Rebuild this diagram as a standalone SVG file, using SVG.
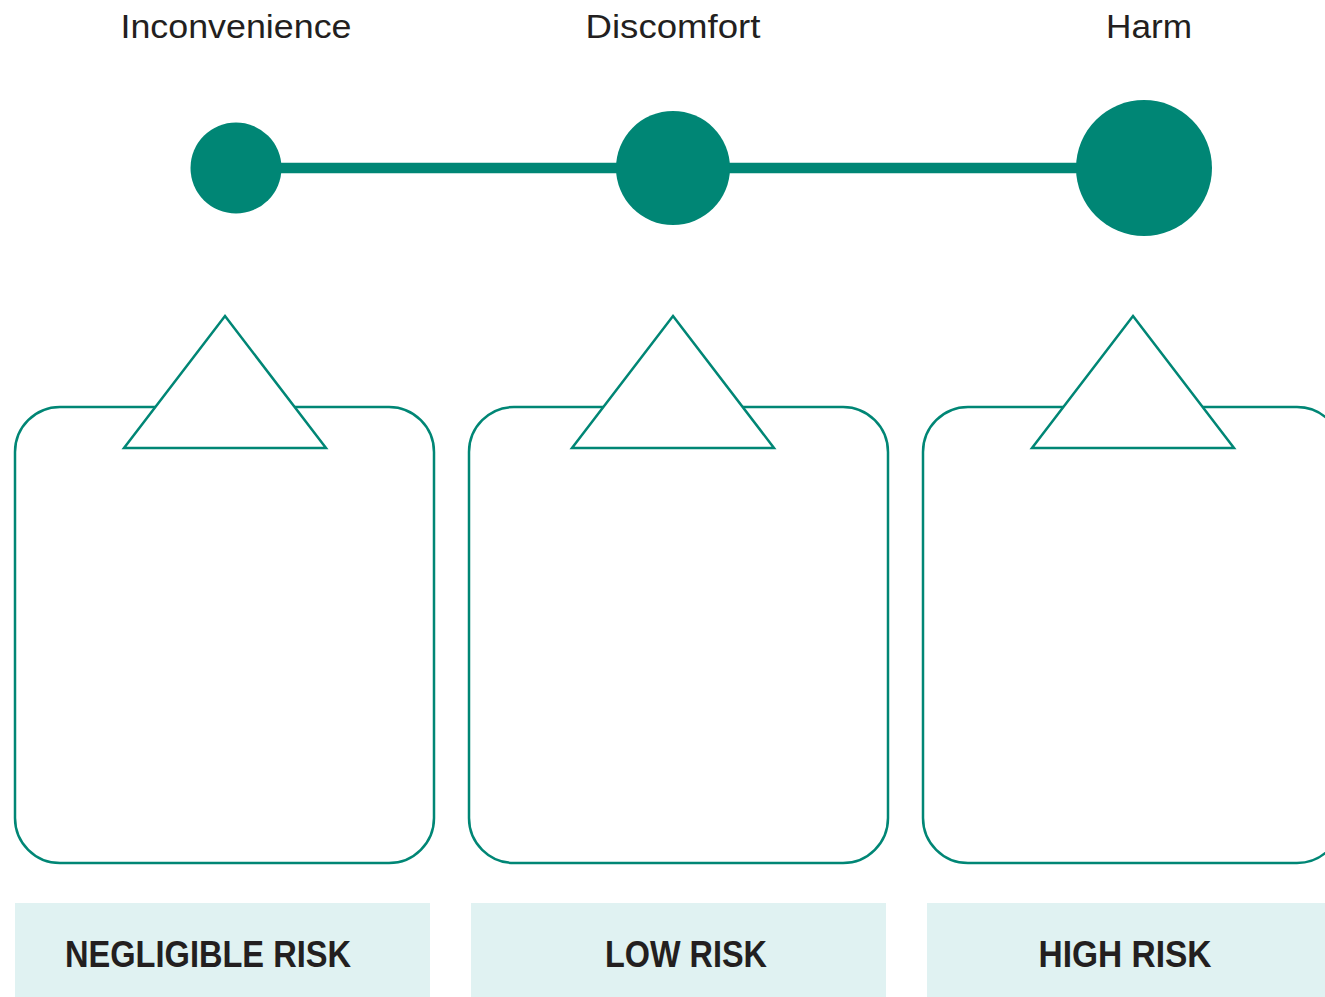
<svg xmlns="http://www.w3.org/2000/svg" width="1325" height="997" viewBox="0 0 1325 997">
<style>
.dot{fill:#008675}
.tri{fill:#fff;stroke:#008675;stroke-width:2.5;stroke-linejoin:miter}
.box{fill:#fff;stroke:#008675;stroke-width:2.5}
.band{fill:#e0f2f2}
.top{font-family:"Liberation Sans",Arial,sans-serif;font-size:34px;fill:#231f20;text-anchor:middle}
.risk{font-family:"Liberation Sans",Arial,sans-serif;font-size:37px;font-weight:bold;fill:#231f20;text-anchor:middle}
</style>
<rect width="1325" height="997" fill="#fff"/>
<g id="connectors">
<line x1="236" y1="168" x2="1144" y2="168" stroke="#008675" stroke-width="10.5"/>
</g>
<g id="node-inconvenience">
<text class="top" x="236" y="38" textLength="231" lengthAdjust="spacingAndGlyphs">Inconvenience</text>
<circle class="dot" cx="236" cy="168" r="45.5"/>
</g>
<g id="node-discomfort">
<text class="top" x="673" y="38" textLength="175" lengthAdjust="spacingAndGlyphs">Discomfort</text>
<circle class="dot" cx="673" cy="168" r="57"/>
</g>
<g id="node-harm">
<text class="top" x="1149" y="38" textLength="86" lengthAdjust="spacingAndGlyphs">Harm</text>
<circle class="dot" cx="1144" cy="168" r="68"/>
</g>
<g id="panel-negligible">
<rect class="box" x="15" y="407" width="419" height="456" rx="45" ry="45"/>
<polygon class="tri" points="225,316 326,448 124,448"/>
<rect class="band" x="15" y="903" width="415" height="94"/>
<text class="risk" x="208" y="967" textLength="286" lengthAdjust="spacingAndGlyphs">NEGLIGIBLE RISK</text>
</g>
<g id="panel-low">
<rect class="box" x="469" y="407" width="419" height="456" rx="45" ry="45"/>
<polygon class="tri" points="673,316 774,448 572,448"/>
<rect class="band" x="471" y="903" width="415" height="94"/>
<text class="risk" x="686" y="967" textLength="162" lengthAdjust="spacingAndGlyphs">LOW RISK</text>
</g>
<g id="panel-high">
<rect class="box" x="923" y="407" width="419" height="456" rx="45" ry="45"/>
<polygon class="tri" points="1133,316 1234,448 1032,448"/>
<rect class="band" x="927" y="903" width="415" height="94"/>
<text class="risk" x="1125" y="967" textLength="173" lengthAdjust="spacingAndGlyphs">HIGH RISK</text>
</g>
</svg>
